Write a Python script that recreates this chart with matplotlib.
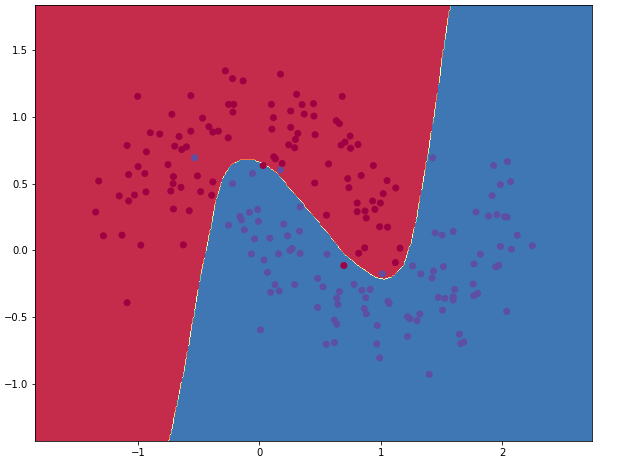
#!/usr/bin/env python
# -*- coding: utf-8 -*-
import numpy as np
import matplotlib
matplotlib.use('Agg')
import matplotlib.pyplot as plt

## points of class 0 (red moon)
x_red = [-0.279, 0.175, -0.220, -0.133, -0.564, -1.002, 0.684, 0.308, -0.253, -0.211,
         0.100, 0.353, 0.447, -0.217, 0.259, -0.720, 0.117, 0.370, 0.451, -0.467,
         -0.415, -0.337, -0.382, 0.104, 0.259, -0.564, -0.898, -0.820, 0.318, 0.460,
         0.635, 0.661, -0.256, -0.661, 0.749, 0.298, -1.089, -0.697, -0.600, -0.639,
         0.243, 0.292, 0.674, 0.707, 0.814, 0.752, -0.930, 0.120, 0.133, -0.752,
         -0.998, 0.032, 0.188, 0.571, 0.940, -1.076, -0.943, -0.509, -0.707, 0.840,
         -1.323, -0.710, -0.382, 0.457, 0.729, 1.053, -0.645, -0.729, -0.483, -0.934,
         0.739, 1.125, -1.154, -1.028, -0.392, 1.021, -1.076, 0.934, 0.998, 0.807,
         -1.348, -0.707, -0.577, 0.554, 0.807, 0.872, 0.953, 0.882, -1.284, -1.131,
         0.992, 1.057, -0.976, -0.626, 0.869, 1.160, 0.820, 0.697, 1.122, -1.089]
y_red = [1.345, 1.320, 1.287, 1.270, 1.159, 1.154, 1.154, 1.169, 1.094, 1.094,
         1.094, 1.092, 1.099, 1.036, 1.044, 1.019, 0.994, 1.021, 1.006, 0.991,
         0.926, 0.893, 0.886, 0.908, 0.921, 0.893, 0.881, 0.871, 0.876, 0.866,
         0.971, 0.949, 0.843, 0.853, 0.856, 0.831, 0.785, 0.780, 0.775, 0.755,
         0.790, 0.768, 0.788, 0.811, 0.793, 0.765, 0.738, 0.700, 0.685, 0.642,
         0.627, 0.635, 0.650, 0.647, 0.635, 0.567, 0.575, 0.557, 0.552, 0.560,
         0.519, 0.499, 0.512, 0.504, 0.537, 0.522, 0.472, 0.444, 0.439, 0.437,
         0.469, 0.467, 0.407, 0.414, 0.412, 0.424, 0.369, 0.369, 0.354, 0.354,
         0.286, 0.309, 0.296, 0.263, 0.289, 0.294, 0.306, 0.241, 0.108, 0.113,
         0.176, 0.173, 0.038, 0.040, 0.018, 0.015, -0.023, -0.115, -0.093, -0.394]

## points of class 1 (blue moon)
x_blue = [-0.532, 0.175, -0.055, -0.220, 1.430, 1.932, 2.045, 1.987, 2.071, 1.919,
          0.337, -0.081, -0.013, -0.159, -0.146, -0.006, -0.253, 0.201, -0.123, 0.331,
          0.233, -0.039, 0.088, 1.786, 1.890, 1.958, 2.023, 2.042, 2.126, 1.449,
          1.507, 1.598, 0.272, 0.253, 0.337, 0.159, -0.065, 0.039, 0.558, 2.250,
          2.078, 1.987, 1.822, 1.770, 1.264, 1.436, 1.517, 1.948, 1.974, 1.332,
          1.423, 1.015, 0.068, 0.480, 0.130, 0.292, 0.525, 0.781, 0.094, 0.165,
          0.661, 0.846, 0.914, 1.611, 1.763, 1.767, 1.799, 0.639, 0.878, 1.475,
          1.530, 1.598, 1.598, 1.060, 1.070, 0.648, 0.480, 0.865, 0.882, 1.511,
          1.323, 1.222, 1.241, 1.300, 2.039, 0.619, 0.639, 0.972, 0.010, 1.650,
          1.222, 0.551, 0.619, 0.969, 1.660, 1.686, 0.992, 1.400]
y_blue = [0.693, 0.602, 0.575, 0.499, 0.693, 0.635, 0.665, 0.492, 0.514, 0.409,
          0.324, 0.284, 0.306, 0.253, 0.226, 0.216, 0.188, 0.196, 0.153, 0.143,
          0.108, 0.085, 0.090, 0.286, 0.256, 0.266, 0.251, 0.248, 0.113, 0.130,
          0.113, 0.141, 0.013, -0.003, -0.023, -0.028, -0.028, -0.073, -0.030, 0.033,
          0.008, 0.028, -0.030, -0.103, -0.118, -0.156, -0.123, -0.125, -0.113, -0.178,
          -0.208, -0.178, -0.166, -0.211, -0.258, -0.258, -0.274, -0.256, -0.316, -0.306,
          -0.311, -0.301, -0.294, -0.294, -0.253, -0.341, -0.324, -0.361, -0.356, -0.354,
          -0.361, -0.349, -0.374, -0.384, -0.399, -0.407, -0.429, -0.437, -0.477, -0.449,
          -0.479, -0.499, -0.514, -0.529, -0.459, -0.524, -0.555, -0.565, -0.597, -0.630,
          -0.647, -0.705, -0.693, -0.703, -0.700, -0.688, -0.808, -0.931]

## decision boundary (blue below the curve)
bound_x = [-0.739, -0.609, -0.480, -0.415, -0.350, -0.301, -0.237, -0.156, -0.058, 0.023,
           0.136, 0.266, 0.395, 0.558, 0.687, 0.817, 0.947, 1.028, 1.109, 1.190,
           1.254, 1.303, 1.352, 1.400, 1.465, 1.530, 1.579]
bound_y = [-1.435, -0.876, -0.198, 0.078, 0.379, 0.529, 0.630, 0.675, 0.678, 0.650,
           0.580, 0.442, 0.304, 0.128, -0.023, -0.123, -0.203, -0.223, -0.198, -0.123,
           0.053, 0.253, 0.504, 0.755, 1.132, 1.558, 1.839]


def main(args):
    X = np.concatenate([np.column_stack([x_red, y_red]), np.column_stack([x_blue, y_blue])])
    y = np.concatenate([np.zeros(len(x_red)), np.ones(len(x_blue))])

    x_min, x_max = X[:, 0].min() - .5, X[:, 0].max() + .5
    y_min, y_max = X[:, 1].min() - .5, X[:, 1].max() + .5
    h = 0.01
    xx, yy = np.meshgrid(np.arange(x_min, x_max, h), np.arange(y_min, y_max, h))
    Z = (yy < np.interp(xx, bound_x, bound_y, left=-10, right=10)).astype(float)

    fig = plt.figure(figsize=(618 / 72, 462 / 72), dpi=72)
    ax = fig.add_axes([35 / 618, 21 / 462, 557 / 618, 436 / 462])
    ax.contourf(xx, yy, Z, cmap=plt.cm.Spectral)
    ax.scatter(X[:, 0], X[:, 1], c=y, cmap=plt.cm.Spectral)

    fig.savefig('out.png', dpi=72)
    return 0


if __name__ == '__main__':
    import sys
    sys.exit(main(sys.argv))
